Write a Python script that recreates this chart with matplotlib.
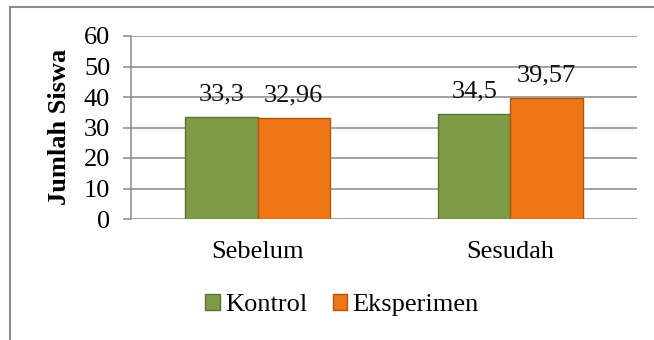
import numpy as np
import matplotlib
matplotlib.use('Agg')
import matplotlib.pyplot as plt
from matplotlib.patches import Rectangle

categories = ['Sebelum', 'Sesudah']
kontrol = [33.3, 34.5]
eksperimen = [32.96, 39.57]
kontrol_labels = ['33,3', '34,5']
eksperimen_labels = ['32,96', '39,57']
series_names = ['Kontrol', 'Eksperimen']
y_ticks = [0, 10, 20, 30, 40, 50, 60]

plt.rcParams['font.family'] = ['Liberation Serif', 'DejaVu Serif']

green = '#7E9C45'
orange = '#F07514'
grid_gray = '#898989'
fs = 19

fig = plt.figure(figsize=(6.54, 3.40), dpi=100)
ax = fig.add_axes([131 / 654, 1 - 219 / 340, 506 / 654, 183 / 340])

# outer chart border (only top and left are visible in the crop)
fig.patches.append(Rectangle((10 / 654, -0.1), 1.2, 1 - 7 / 340 + 0.1,
                             transform=fig.transFigure, fill=False,
                             edgecolor='#8C8C8C', linewidth=1.5))

x = np.arange(len(categories))
w = 0.285
b1 = ax.bar(x - w / 2, kontrol, w, color=green, edgecolor='#5B7130',
            linewidth=1.0, label=series_names[0], zorder=3)
b2 = ax.bar(x + w / 2, eksperimen, w, color=orange, edgecolor='#B2560E',
            linewidth=1.0, label=series_names[1], zorder=3)

for bars, labels in [(b1, kontrol_labels), (b2, eksperimen_labels)]:
    for rect, lab in zip(bars, labels):
        ax.annotate(lab, (rect.get_x() + rect.get_width() / 2, rect.get_height()),
                    xytext=(0, 12), textcoords='offset points',
                    ha='center', va='baseline', fontsize=fs, color='#111111')

ax.set_xlim(-0.5, 1.5)
ax.set_ylim(0, 60)
ax.set_yticks(y_ticks)
ax.set_xticks(x)
ax.set_xticklabels(categories)
ax.yaxis.grid(True, color=grid_gray, linewidth=1.1, zorder=0)
ax.set_axisbelow(True)
for s in ['top', 'right', 'bottom']:
    ax.spines[s].set_visible(False)
ax.spines['left'].set_color(grid_gray)
ax.spines['left'].set_linewidth(1.1)
ax.tick_params(axis='y', length=6, width=1.1, color=grid_gray, pad=9, labelsize=fs)
ax.tick_params(axis='x', length=0, pad=16, labelsize=fs)

fig.text(60 / 654, 1 - 127 / 340, 'Jumlah Siswa', rotation=90, ha='center',
         va='center', fontsize=fs, fontweight='bold')

fig.legend(handles=[b1, b2], labels=series_names, loc='center',
           bbox_to_anchor=(342 / 654, 1 - 305 / 340), ncol=2, frameon=False,
           fontsize=fs, handlelength=0.55, handleheight=0.55, handletextpad=0.2,
           columnspacing=0.95)

fig.savefig('out.png', dpi=100)
